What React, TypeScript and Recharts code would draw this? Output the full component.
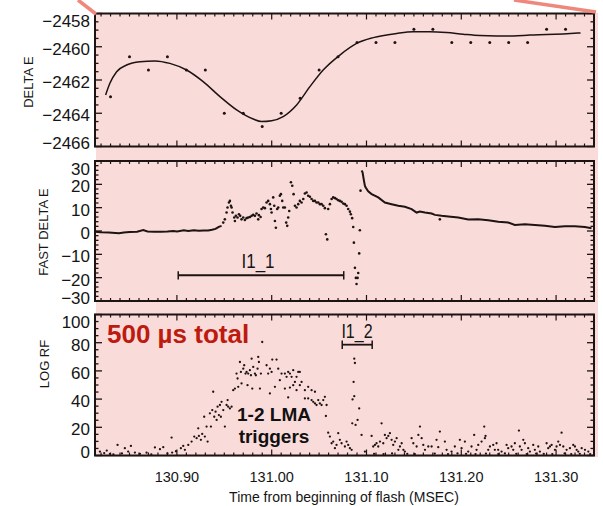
import React from 'react';
import { ComposedChart, Line, Scatter, XAxis, YAxis, ReferenceArea, ReferenceLine } from 'recharts';

// time axis (ms from beginning of flash)
const X_DOMAIN = [130.8136, 131.34];
const X_MAJOR = [130.9, 131.0, 131.1, 131.2, 131.3];

// DELTA E panel
const DE_MAJOR = [-2466, -2464, -2462, -2460, -2458];
const deltaPoints = [
  [130.83, -2463.0], [130.85, -2460.6], [130.87, -2461.4], [130.89, -2460.6], [130.91, -2461.4],
  [130.93, -2461.4], [130.95, -2464.0], [130.97, -2464.0], [130.99, -2464.8], [131.01, -2464.0],
  [131.03, -2463.1], [131.05, -2461.4], [131.07, -2460.6], [131.09, -2459.75], [131.11, -2459.75],
  [131.13, -2459.75], [131.15, -2458.95], [131.17, -2458.95], [131.19, -2459.75], [131.21, -2459.75],
  [131.23, -2459.75], [131.25, -2459.75], [131.27, -2459.75], [131.29, -2458.95], [131.31, -2458.95],
];
const deltaFit = [
  [130.8248, -2462.9], [130.8293, -2462.2], [130.8364, -2461.5], [130.8469, -2461.1], [130.861, -2460.9],
  [130.8768, -2460.85], [130.8926, -2461.0], [130.9102, -2461.4], [130.9277, -2462.1], [130.9454, -2463.0],
  [130.963, -2463.8], [130.9805, -2464.35], [130.9893, -2464.5], [130.9999, -2464.45], [131.0121, -2464.2],
  [131.0263, -2463.5], [131.0403, -2462.4], [131.0543, -2461.4], [131.0719, -2460.5], [131.0896, -2459.8],
  [131.1071, -2459.45], [131.1318, -2459.2], [131.1493, -2459.1], [131.1669, -2459.1], [131.1845, -2459.15],
  [131.202, -2459.25], [131.2196, -2459.33], [131.2372, -2459.35], [131.2548, -2459.35], [131.2724, -2459.3],
  [131.29, -2459.27], [131.3075, -2459.23], [131.3258, -2459.17],
];

// FAST DELTA E panel
const FDE_MAJOR = [-30, -20, -10, 0, 10, 20, 30];
const fastBaseline = [
  [130.8136, -0.3], [130.82, -0.5], [130.828, -0.6], [130.8389, -1.0], [130.844, -0.6], [130.85, -0.4],
  [130.858, -0.3], [130.8645, 0.4], [130.869, -0.2], [130.876, -0.3], [130.883, -0.3], [130.89, -0.2],
  [130.896, 0.0], [130.9003, -0.2], [130.9073, 0.3], [130.912, 0.0], [130.9178, 0.3], [130.923, 0.1],
  [130.9284, 0.2], [130.933, 0.2], [130.937, 0.5], [130.9407, 0.9], [130.9442, 1.8], [130.9471, 2.2],
];
const fastBurst = [
  [130.9489, 3.6], [130.9506, 5.0], [130.9524, 7.9], [130.9534, 10.1], [130.9549, 12.2], [130.9559, 12.9],
  [130.957, 10.8], [130.9577, 10.1], [130.9587, 7.9], [130.9605, 5.8], [130.9612, 4.3], [130.9622, 6.5],
  [130.964, 5.8], [130.9654, 7.2], [130.9668, 6.5], [130.9682, 5.0], [130.97, 5.8], [130.9717, 4.7],
  [130.9735, 5.5], [130.9752, 5.8], [130.977, 6.0], [130.9788, 6.5], [130.9805, 6.9], [130.9823, 6.5],
  [130.984, 7.5], [130.9858, 5.0], [130.9865, 6.8], [130.9883, 6.0], [130.9893, 9.4], [130.9911, 10.1],
  [130.9928, 9.8], [130.9946, 12.2], [130.9963, 12.9], [130.9981, 11.5], [130.9992, 9.4], [130.9999, 7.9],
  [131.0016, 14.4], [131.0027, 10.8], [131.0034, 4.3], [131.0044, 1.4], [131.0058, 9.4], [131.0069, 10.1],
  [131.0086, 15.1], [131.0097, 15.8], [131.0111, 12.9], [131.0122, 10.1], [131.0139, 10.1], [131.0153, 3.6],
  [131.0164, 2.2], [131.0174, 5.8], [131.0185, 8.6], [131.0203, 20.9], [131.0217, 19.4], [131.0231, 15.8],
  [131.0245, 10.8], [131.0262, 10.1], [131.028, 11.5], [131.0297, 12.9], [131.0315, 12.2], [131.0333, 13.7],
  [131.035, 16.1], [131.0368, 16.5], [131.0385, 15.1], [131.0403, 14.7], [131.0421, 13.7], [131.0438, 12.9],
  [131.0456, 12.9], [131.0473, 12.2], [131.0491, 12.2], [131.0508, 11.5], [131.0526, 11.5], [131.0544, 10.8],
  [131.0561, 9.8], [131.0572, -1.4], [131.0586, -3.6], [131.0596, 9.4], [131.0614, 11.5], [131.0632, 13.7],
  [131.0649, 14.4], [131.0667, 14.1], [131.0684, 13.7], [131.0702, 13.2], [131.0719, 12.9], [131.0737, 12.5],
  [131.0755, 11.8], [131.0772, 11.5], [131.079, 10.8], [131.0807, 9.4], [131.0825, 8.3], [131.0835, 7.2],
  [131.0849, 5.5], [131.086, 1.7], [131.0867, -5.0], [131.0878, -15.8], [131.0888, -20.1], [131.0895, -22.7],
  [131.0906, -20.1], [131.0913, -18.0], [131.0923, -9.6], [131.093, 0.3], [131.0937, 17.3], [131.1774, 5.0],
];
const fastDecay = [
  [131.0948, 25.9], [131.0958, 25.2], [131.0973, 21.6], [131.0983, 19.4], [131.099, 18.7], [131.1018, 17.0],
  [131.1054, 15.8], [131.1124, 14.4], [131.1194, 12.2], [131.1265, 11.5], [131.1335, 10.8], [131.1405, 10.4],
  [131.1476, 9.4], [131.1529, 7.9], [131.1563, 8.3], [131.1616, 7.9], [131.1687, 7.5], [131.1722, 6.9],
  [131.1792, 6.5], [131.1863, 6.2], [131.1968, 5.8], [131.2073, 4.9], [131.2179, 5.0], [131.2284, 4.6],
  [131.239, 4.0], [131.2495, 3.6], [131.2565, 2.6], [131.2671, 2.9], [131.2776, 2.6], [131.2882, 2.2],
  [131.2987, 1.7], [131.3093, 2.0], [131.3198, 2.0], [131.3304, 1.7], [131.3374, 1.2],
];
const i11Span = [130.9014, 131.076];
const i11Level = -19;

// LOG RF panel
const LRF_MAJOR = [0, 20, 40, 60, 80, 100];
const rfPoints = [
  [130.8188, 2.8], [130.8233, 1.7], [130.826, 3.5], [130.8293, 1.2], [130.833, 0.8], [130.8374, 7.5],
  [130.842, 1.5], [130.8451, 5.2], [130.8486, 2.8], [130.8515, 6.8], [130.8557, 2.1], [130.861, 1.2],
  [130.868, 2.0], [130.873, 0.8], [130.8768, 5.7], [130.8821, 4.5], [130.8856, 5.9], [130.89, 1.5],
  [130.8944, 12.7], [130.895, 2.1], [130.899, 3.0], [130.9042, 5.2], [130.9067, 6.8], [130.9084, 4.0],
  [130.912, 7.5], [130.9155, 9.9], [130.9183, 13.4], [130.9208, 12.3], [130.9225, 19.3], [130.9232, 13.9],
  [130.9253, 11.1], [130.9267, 15.3], [130.9288, 27.5], [130.9295, 13.4], [130.9313, 20.5], [130.9324, 9.9],
  [130.9348, 29.9], [130.9359, 20.5], [130.9373, 32.2], [130.9383, 45.2], [130.9394, 27.5], [130.9408, 31.1],
  [130.9419, 25.2], [130.9429, 34.6], [130.9443, 28.7], [130.9454, 35.8], [130.9464, 27.5], [130.9471, 38.1],
  [130.9489, 32.2], [130.9506, 20.5], [130.9524, 35.8], [130.9535, 39.3], [130.9541, 34.6], [130.9559, 33.4],
  [130.9577, 34.6], [130.9594, 46.3], [130.9612, 47.5], [130.9629, 58.1], [130.964, 54.6], [130.9647, 48.7],
  [130.9665, 66.3], [130.9675, 59.3], [130.9682, 51.1], [130.97, 61.6], [130.971, 64.0], [130.9724, 58.1],
  [130.9735, 59.3], [130.9745, 49.9], [130.9752, 58.1], [130.977, 60.5], [130.9781, 56.9], [130.9788, 68.7],
  [130.9795, 47.5], [130.9805, 62.8], [130.9823, 58.1], [130.9833, 56.9], [130.9851, 61.6], [130.9858, 69.9],
  [130.9865, 66.3], [130.9876, 47.5], [130.9886, 58.1], [130.99, 80.5], [130.9946, 64.0], [130.9963, 58.1],
  [130.9981, 61.6], [130.9981, 44.0], [130.9999, 59.3], [131.0006, 68.0], [131.0034, 48.7], [131.0051, 68.0],
  [131.0069, 61.6], [131.0086, 53.4], [131.0104, 58.1], [131.0139, 58.1], [131.0139, 47.5], [131.0157, 55.8],
  [131.0174, 59.3], [131.0174, 41.2], [131.0192, 58.1], [131.0192, 48.2], [131.021, 55.8], [131.0227, 60.5],
  [131.0227, 49.9], [131.0245, 52.2], [131.0262, 55.8], [131.0262, 46.3], [131.028, 59.3], [131.0297, 59.3],
  [131.0297, 49.9], [131.0315, 52.2], [131.035, 46.3], [131.035, 40.5], [131.0385, 48.7], [131.0385, 40.5],
  [131.0421, 46.3], [131.0421, 39.3], [131.0438, 38.1], [131.0456, 45.2], [131.0456, 36.9], [131.0473, 35.8],
  [131.0491, 39.3], [131.0508, 36.9], [131.0526, 35.8], [131.0544, 39.3], [131.0561, 41.6], [131.0572, 28.0],
  [131.0579, 35.8], [131.0596, 16.2], [131.0614, 13.4], [131.0632, 8.7], [131.0649, 9.9], [131.0667, 5.2],
  [131.0684, 7.5], [131.0702, 15.8], [131.0719, 11.1], [131.0737, 8.7], [131.0772, 6.4], [131.079, 9.9],
  [131.0807, 7.5], [131.0825, 5.2], [131.0843, 4.0], [131.085, 22.8], [131.0853, 39.8], [131.0864, 52.2],
  [131.0871, 68.7], [131.0871, 42.1], [131.0878, 65.6], [131.0885, 21.7], [131.0906, 25.2], [131.0923, 33.4],
  [131.0948, 14.6], [131.0983, 2.8], [131.1054, 13.9], [131.1071, 6.4], [131.108, 1.2], [131.1089, 7.5],
  [131.1106, 8.7], [131.1124, 6.4], [131.1142, 9.9], [131.1159, 22.8], [131.1177, 8.7], [131.118, 1.0],
  [131.1194, 14.6], [131.1212, 12.3], [131.123, 13.9], [131.1247, 15.8], [131.1265, 11.1], [131.127, 1.5],
  [131.1282, 7.5], [131.13, 9.9], [131.1318, 12.3], [131.1336, 4.0], [131.1353, 6.4], [131.1371, 8.7],
  [131.1389, 4.0], [131.1405, 2.8], [131.143, 1.2], [131.1476, 12.3], [131.1494, 8.7], [131.151, 1.0],
  [131.1529, 6.4], [131.1547, 14.6], [131.1564, 20.5], [131.1582, 12.3], [131.1599, 7.5], [131.1617, 4.0],
  [131.1652, 6.4], [131.1687, 6.4], [131.172, 1.4], [131.1739, 11.1], [131.1757, 5.9], [131.1774, 17.0],
  [131.1827, 9.9], [131.1845, 4.0], [131.186, 1.0], [131.1897, 2.8], [131.1932, 6.4], [131.196, 1.5],
  [131.1985, 11.1], [131.2003, 5.2], [131.205, 1.2], [131.2038, 9.9], [131.2073, 2.8], [131.2108, 6.4],
  [131.2136, 14.6], [131.215, 1.0], [131.2161, 4.0], [131.2179, 7.5], [131.2214, 9.9], [131.2242, 20.5],
  [131.2249, 12.3], [131.2256, 13.9], [131.226, 1.4], [131.2284, 4.0], [131.2302, 6.4], [131.2337, 7.5],
  [131.2354, 4.0], [131.2372, 8.7], [131.2389, 4.0], [131.239, 1.0], [131.2425, 2.8], [131.246, 1.5],
  [131.2478, 7.5], [131.2495, 5.2], [131.253, 6.4], [131.2548, 4.0], [131.2565, 8.7], [131.258, 1.2],
  [131.2608, 17.7], [131.2618, 6.4], [131.2636, 4.0], [131.2654, 11.1], [131.2671, 8.7], [131.269, 1.0],
  [131.2706, 5.2], [131.2724, 2.8], [131.2759, 7.5], [131.2776, 4.0], [131.279, 1.4], [131.2812, 6.4],
  [131.2829, 2.8], [131.287, 1.2], [131.29, 8.7], [131.2917, 5.2], [131.2935, 6.4], [131.2953, 7.5],
  [131.296, 1.0], [131.2988, 4.0], [131.3005, 6.4], [131.3023, 9.9], [131.3041, 7.5], [131.3058, 16.2],
  [131.3076, 6.4], [131.309, 1.5], [131.3111, 4.0], [131.3146, 5.2], [131.316, 1.0], [131.3181, 7.5],
  [131.3199, 6.4], [131.3217, 4.0], [131.3234, 2.8], [131.325, 1.2], [131.327, 5.2], [131.3305, 4.0],
  [131.334, 2.8], [131.336, 1.0],
];
const i12Span = [131.0744, 131.106];
const i12Level = 78.6;

const INK = '#1d1313';
const TXT = '#151515';
const PINK = '#f9dcda';
const RED = '#bd1a10';
const FONT = '"Liberation Sans", Arial, Helvetica, sans-serif';

const PLOT_LEFT = 95;
const PLOT_RIGHT_GAP = 9;
const PLOT_W = 603 - PLOT_LEFT - PLOT_RIGHT_GAP;
const X_AXIS_H = 1;

const rows = (pairs: number[][]) => pairs.map(([t, v]) => ({ t, v }));
const steps = (lo: number, hi: number, step: number) => {
  const out: number[] = [];
  for (let v = lo; v <= hi + step / 10; v += step) out.push(Math.round(v * 1000) / 1000);
  return out;
};
const isIn = (arr: number[], v: number) => arr.some((m) => Math.abs(m - v) < 1e-6);
const fmtNum = (v: number) => (v < 0 ? `\u2212${Math.abs(v)}` : `${v}`);

const X_TICKS = steps(130.82, 131.33, 0.01);

const makeXTick = (plotH: number, showLabels: boolean) => (props: any) => {
  const { x, y, payload } = props;
  const major = isIn(X_MAJOR, payload.value);
  const len = major ? 6 : 3;
  return (
    <g>
      <line x1={x} x2={x} y1={y} y2={y - len} stroke={INK} strokeWidth={1.2} />
      <line x1={x} x2={x} y1={y - plotH} y2={y - plotH + len} stroke={INK} strokeWidth={1.2} />
      {showLabels && major && (
        <text x={x} y={y + 21} textAnchor="middle" dominantBaseline="central" fontSize={14.5} fontFamily={FONT} fill={TXT}>
          {payload.value.toFixed(2)}
        </text>
      )}
    </g>
  );
};

const makeYTick = (majors: number[], lo: number, hi: number) => (props: any) => {
  const { x, y, payload } = props;
  const v = payload.value;
  const major = isIn(majors, v);
  const len = major ? 7 : 3.5;
  const dy = Math.abs(v - hi) < 1e-6 ? 8 : Math.abs(v - lo) < 1e-6 ? -3 : 2.5;
  return (
    <g>
      <line x1={x} x2={x + len} y1={y} y2={y} stroke={INK} strokeWidth={1.3} />
      <line x1={x + PLOT_W} x2={x + PLOT_W - len} y1={y} y2={y} stroke={INK} strokeWidth={1.3} />
      {major && (
        <text x={x - 5} y={y + dy} textAnchor="end" dominantBaseline="central" fontSize={17} fontFamily={FONT} fill={TXT}>
          {fmtNum(v)}
        </text>
      )}
    </g>
  );
};

const yTitle = (text: string, cx: number, cy: number) => () => (
  <text
    transform={`translate(${cx},${cy}) rotate(-90)`}
    textAnchor="middle"
    dominantBaseline="central"
    fontSize={13}
    fontFamily={FONT}
    fill={TXT}
  >
    {text}
  </text>
);

const dot = (r: number) => (p: any) => <circle cx={p.cx} cy={p.cy} r={r} fill={INK} />;

const Panel = ({
  top,
  height,
  margin,
  plotH,
  yDomain,
  yTicks,
  yMajor,
  title,
  showXLabels,
  children,
}: any) => (
  <div style={{ position: 'absolute', left: 0, top }}>
    <ComposedChart
      width={603}
      height={height}
      margin={{ top: margin[0], right: PLOT_RIGHT_GAP, bottom: margin[1] - X_AXIS_H, left: 0 }}
    >
      <XAxis
        type="number"
        dataKey="t"
        domain={X_DOMAIN}
        allowDataOverflow
        ticks={X_TICKS}
        interval={0}
        height={X_AXIS_H}
        tickSize={0}
        tickMargin={0}
        axisLine={false}
        tickLine={false}
        tick={makeXTick(plotH, showXLabels)}
        label={
          showXLabels
            ? () => (
                <text x={344} y={186.5} textAnchor="middle" dominantBaseline="central" fontSize={14} fontFamily={FONT} fill={TXT}>
                  Time from beginning of flash (MSEC)
                </text>
              )
            : undefined
        }
      />
      <YAxis
        type="number"
        dataKey="v"
        domain={yDomain}
        allowDataOverflow
        ticks={yTicks}
        interval={0}
        width={PLOT_LEFT}
        tickSize={0}
        tickMargin={0}
        axisLine={false}
        tickLine={false}
        tick={makeYTick(yMajor, yDomain[0], yDomain[1])}
        label={title}
      />
      <ReferenceArea
        x1={X_DOMAIN[0]}
        x2={X_DOMAIN[1]}
        y1={yDomain[0]}
        y2={yDomain[1]}
        fill="none"
        stroke={INK}
        strokeWidth={2}
      />
      {children}
    </ComposedChart>
  </div>
);

const App = () => {
  return (
    <div
      style={{
        position: 'fixed',
        left: 0,
        top: 0,
        width: 603,
        height: 506,
        background: '#ffffff',
        overflow: 'hidden',
        fontFamily: FONT,
      }}
    >
      <div style={{ position: 'absolute', left: 96, top: 13, width: 502, height: 444, background: PINK }} />

      <Panel
        top={0}
        height={160}
        margin={[13.5, 13.5]}
        plotH={133}
        yDomain={[-2466, -2458]}
        yTicks={steps(-2466, -2458, 0.5)}
        yMajor={DE_MAJOR}
        title={yTitle('DELTA E', 28, 82)}
        showXLabels={false}
      >
        <Line
          data={rows(deltaFit)}
          dataKey="v"
          type="monotone"
          stroke={INK}
          strokeWidth={1.5}
          dot={false}
          isAnimationActive={false}
        />
        <Scatter data={rows(deltaPoints)} dataKey="v" shape={dot(1.5)} isAnimationActive={false} />
      </Panel>

      <Panel
        top={150}
        height={160}
        margin={[11, 9]}
        plotH={140}
        yDomain={[-30, 30]}
        yTicks={steps(-30, 30, 2)}
        yMajor={FDE_MAJOR}
        title={yTitle('FAST DELTA E', 43, 82)}
        showXLabels={false}
      >
        <Line data={rows(fastBaseline)} dataKey="v" type="linear" stroke={INK} strokeWidth={2} dot={false} isAnimationActive={false} />
        <Line data={rows(fastDecay)} dataKey="v" type="linear" stroke={INK} strokeWidth={2} dot={false} isAnimationActive={false} />
        <Scatter data={rows(fastBurst)} dataKey="v" shape={dot(1.3)} isAnimationActive={false} />
        <ReferenceLine
          segment={[
            { x: i11Span[0], y: i11Level },
            { x: i11Span[1], y: i11Level },
          ]}
          stroke={INK}
          strokeWidth={2}
        />
        {i11Span.map((t) => (
          <ReferenceLine
            key={`c1-${t}`}
            segment={[
              { x: t, y: i11Level - 1.8 },
              { x: t, y: i11Level + 1.8 },
            ]}
            stroke={INK}
            strokeWidth={1.5}
          />
        ))}
      </Panel>

      <Panel
        top={310}
        height={196}
        margin={[4.5, 50.5]}
        plotH={141}
        yDomain={[0, 100]}
        yTicks={steps(0, 100, 5)}
        yMajor={LRF_MAJOR}
        title={yTitle('LOG RF', 44, 54)}
        showXLabels
      >
        <Scatter data={rows(rfPoints)} dataKey="v" shape={dot(1.15)} isAnimationActive={false} />
        <ReferenceLine
          segment={[
            { x: i12Span[0], y: i12Level },
            { x: i12Span[1], y: i12Level },
          ]}
          stroke={INK}
          strokeWidth={1.8}
        />
        {i12Span.map((t) => (
          <ReferenceLine
            key={`c2-${t}`}
            segment={[
              { x: t, y: i12Level - 3 },
              { x: t, y: i12Level + 3 },
            ]}
            stroke={INK}
            strokeWidth={1.5}
          />
        ))}
      </Panel>

      {/* annotations */}
      <div style={{ position: 'absolute', left: 107, top: 321, fontSize: 26, lineHeight: '26px', fontWeight: 700, color: RED, whiteSpace: 'nowrap' }}>
        500 µs total
      </div>
      <div style={{ position: 'absolute', left: 214, top: 405, width: 120, textAlign: 'center', fontSize: 19, lineHeight: '19px', fontWeight: 700, color: '#111' }}>
        1-2 LMA
      </div>
      <div style={{ position: 'absolute', left: 214, top: 426.5, width: 120, textAlign: 'center', fontSize: 19, lineHeight: '19px', fontWeight: 700, color: '#111' }}>
        triggers
      </div>
      <div style={{ position: 'absolute', left: 218, top: 251, width: 80, textAlign: 'center', fontSize: 20, lineHeight: '20px', color: TXT, transform: 'scaleX(0.85)' }}>
        I1_1
      </div>
      <div style={{ position: 'absolute', left: 317, top: 321, width: 80, textAlign: 'center', fontSize: 20, lineHeight: '20px', color: TXT, transform: 'scaleX(0.8)' }}>
        I1_2
      </div>

      {/* red zoom guide lines */}
      <svg width={603} height={506} style={{ position: 'absolute', left: 0, top: 0, pointerEvents: 'none' }}>
        <line x1={78} y1={0} x2={96} y2={14} stroke="#ef877d" strokeWidth={3.5} />
        <line x1={514} y1={0} x2={596} y2={12} stroke="#ef877d" strokeWidth={3.5} />
      </svg>
    </div>
  );
};

export default App;
